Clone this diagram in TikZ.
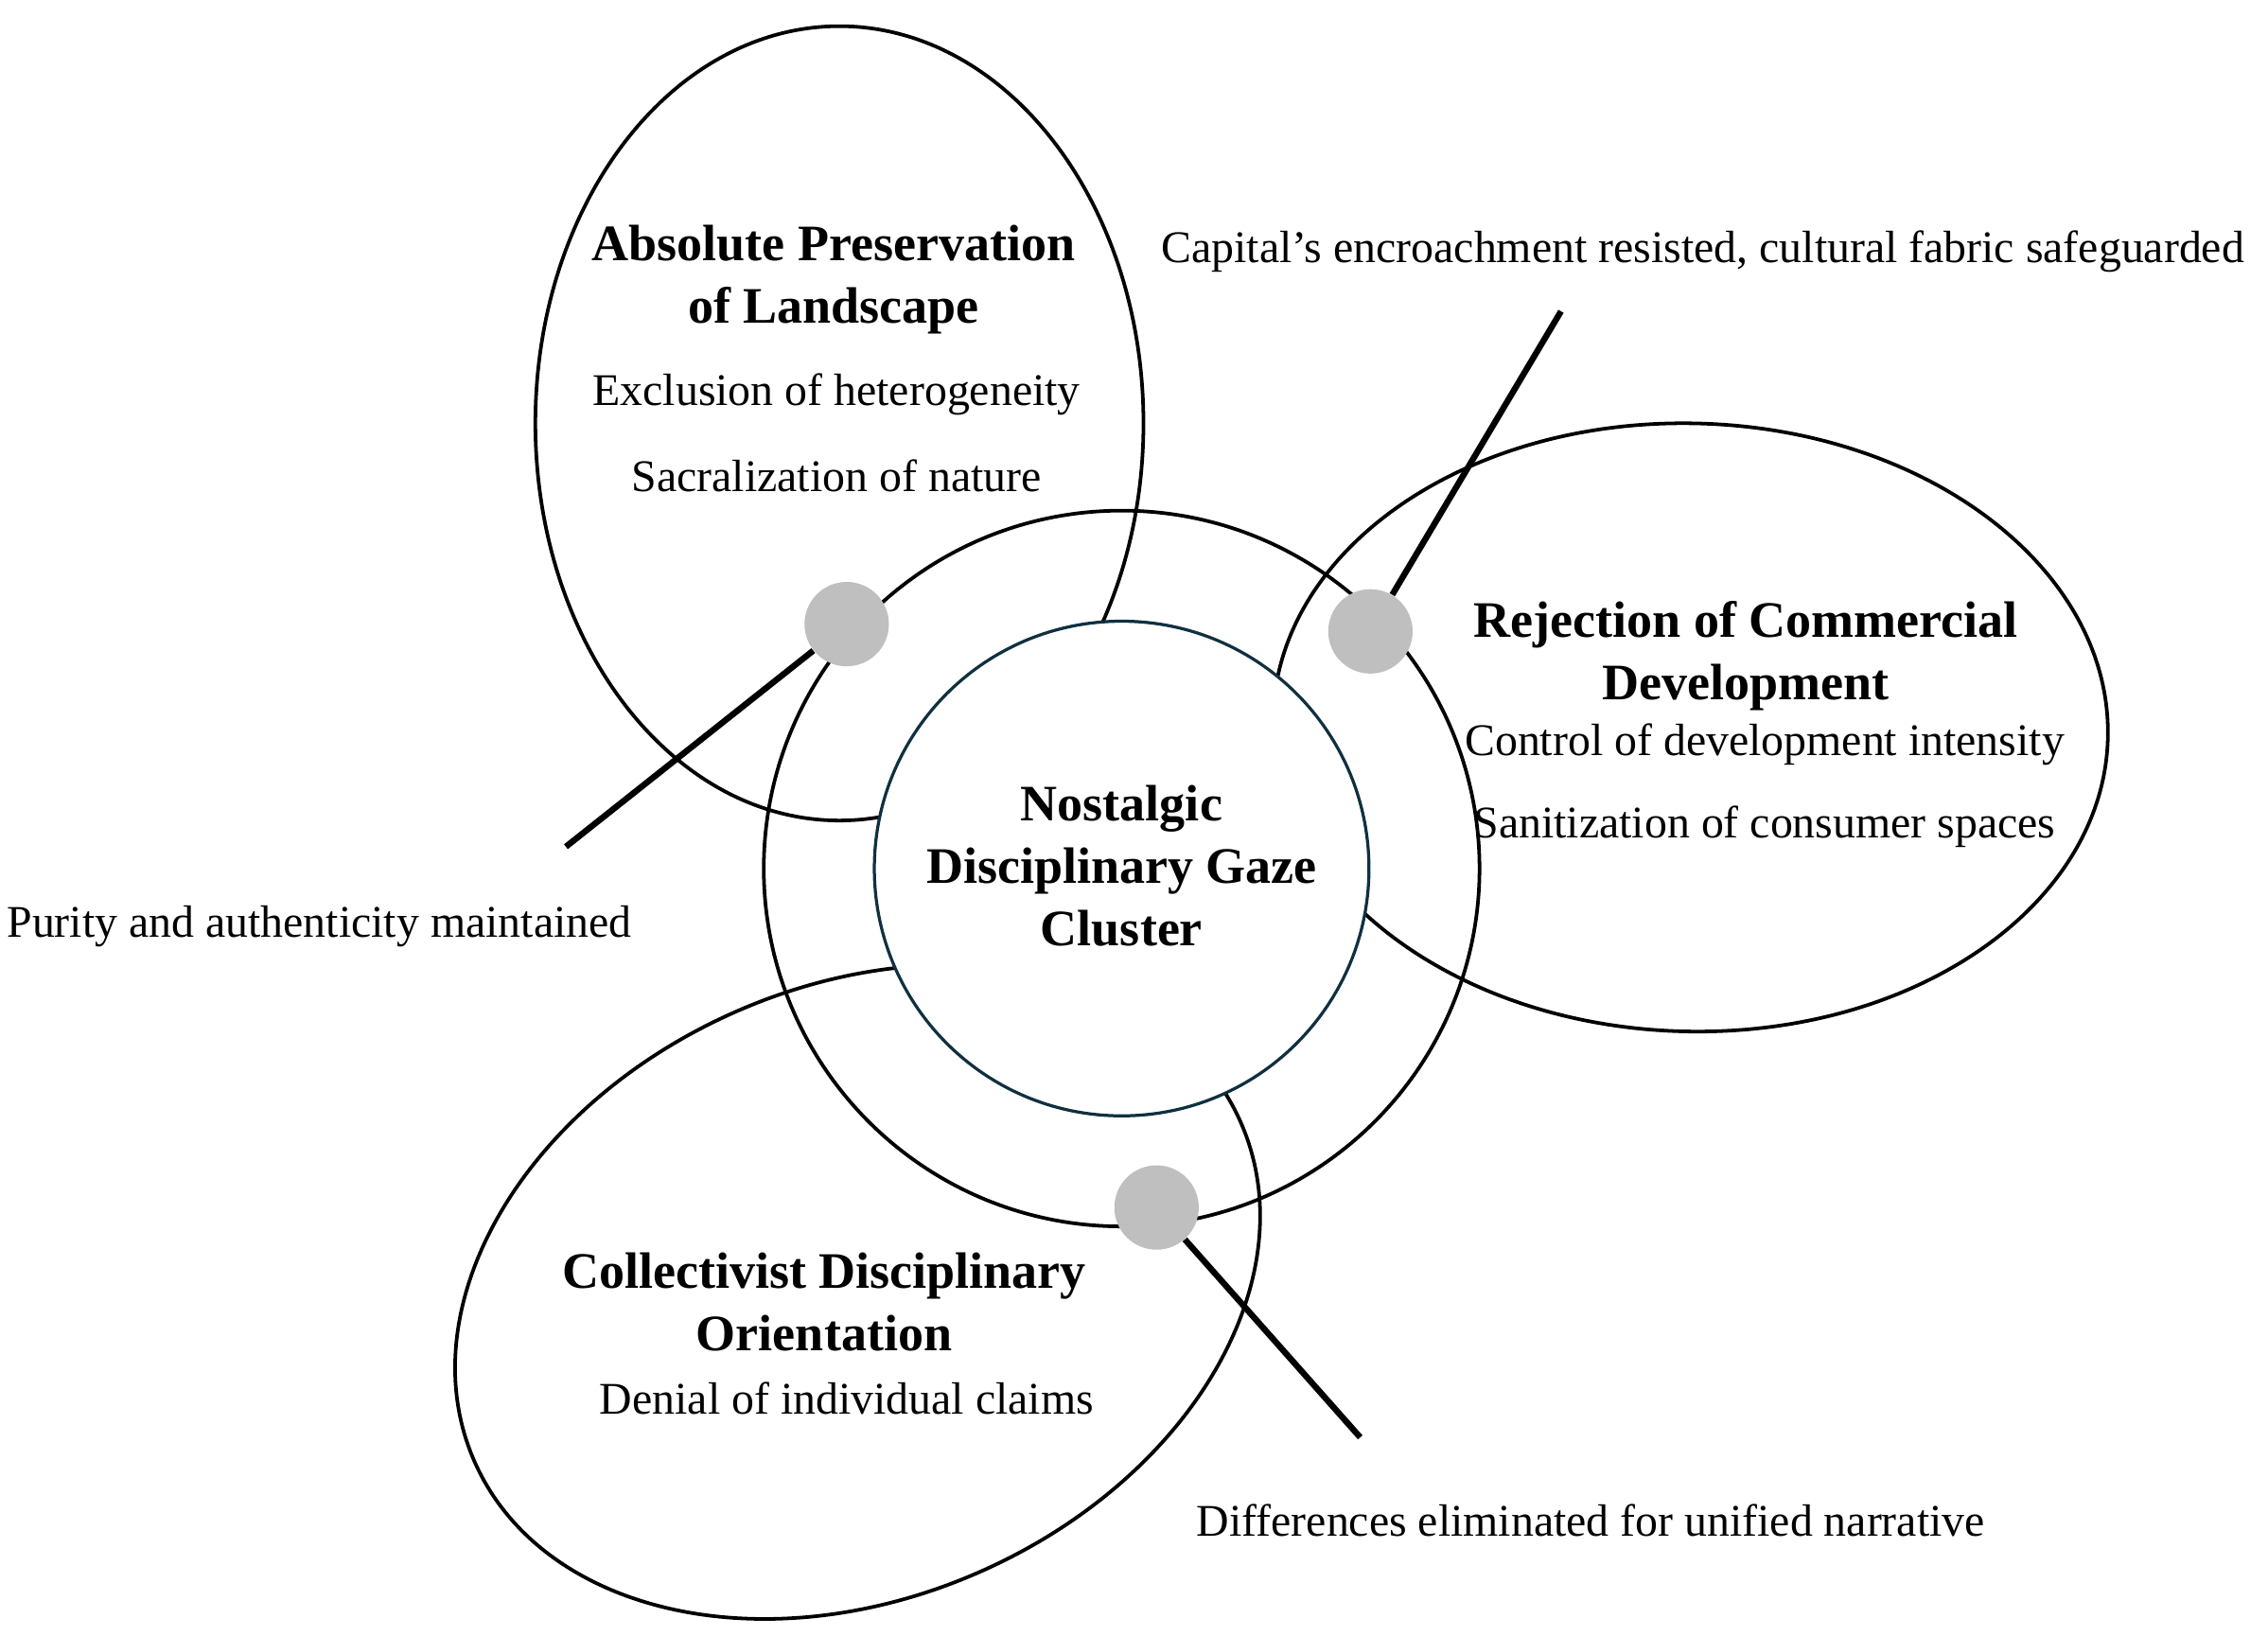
\documentclass[tikz,border=0pt]{standalone}
\usepackage{fontspec}
\setmainfont{Liberation Serif}
\definecolor{ringnavy}{RGB}{16,48,64}
\definecolor{dotgray}{RGB}{191,191,191}
\tikzset{
	rim/.style = {draw = black, line width = 1.4pt},
	pin/.style = {circle, fill = dotgray, minimum size = 1.16cm, inner sep = 0pt},
	stick/.style = {line width = 2.4pt},
	head/.style = {font = \bfseries\fontsize{20}{24.4}\selectfont, align = center, inner sep = 0pt},
	item/.style = {font = \fontsize{17.7}{24.4}\selectfont, align = center, inner sep = 0pt}
}
\begin{document}
\begin{tikzpicture}

	\useasboundingbox (0, 0) rectangle (31.18, 22.48);

	% Ellipses round the core
	
	\draw [rim] (11.54, 16.66) ellipse (4.18 and 5.46);
	\draw [rim, rotate around = {-1.5 : (23.24, 12.48)}] (23.24, 12.48) ellipse (5.74 and 4.18);
	\draw [rim, rotate around = {24 : (11.79, 4.72)}] (11.79, 4.72) ellipse (5.76 and 4.20);
	
	% Ring and core
	
	\draw [rim] (15.42, 10.54) circle (4.92);
	\draw [ringnavy, line width = 1.2pt, fill = white] (15.42, 10.54) circle (3.40);
	
	% Headings and items
	
	\node [head] (preserve) at (11.46, 18.64) {Absolute Preservation\\of Landscape};
	\node [item] (exclusion) at (11.50, 17.06) {Exclusion of heterogeneity};
	\node [item] (sacral) at (11.50, 15.94) {Sacralization of nature};
	
	\node [head] (reject) at (24.00, 13.46) {Rejection of Commercial\\Development};
	\node [item] (control) at (24.26, 12.24) {Control of development intensity};
	\node [item] (sanitize) at (24.26, 11.12) {Sanitization of consumer spaces};
	
	\node [head] (collect) at (11.33, 4.58) {Collectivist Disciplinary\\Orientation};
	\node [item] (denial) at (11.64, 3.26) {Denial of individual claims};
	
	\node [head] (core) at (15.42, 10.58) {Nostalgic\\Disciplinary Gaze\\Cluster};
	
	% Outcomes
	
	\node [item] (capital) at (23.41, 19.02) {Capital’s encroachment resisted, cultural fabric safeguarded};
	\node [item] (purity) at (4.39, 9.74) {Purity and authenticity maintained};
	\node [item] (differ) at (21.87, 1.58) {Differences eliminated for unified narrative};
	
	% Pins w/ sticks
	
	\node [pin] (pinA) at (11.64, 13.90) {};
	\node [pin] (pinB) at (18.84, 13.80) {};
	\node [pin] (pinC) at (15.90, 5.88) {};
	
	\coordinate (endA) at (7.78, 10.84);
	\coordinate (endB) at (21.46, 18.20);
	\coordinate (endC) at (18.70, 2.72);
	
	\draw [stick] (pinA) -- (endA);
	\draw [stick] (pinB) -- (endB);
	\draw [stick] (pinC) -- (endC);
	
\end{tikzpicture}
\end{document}
